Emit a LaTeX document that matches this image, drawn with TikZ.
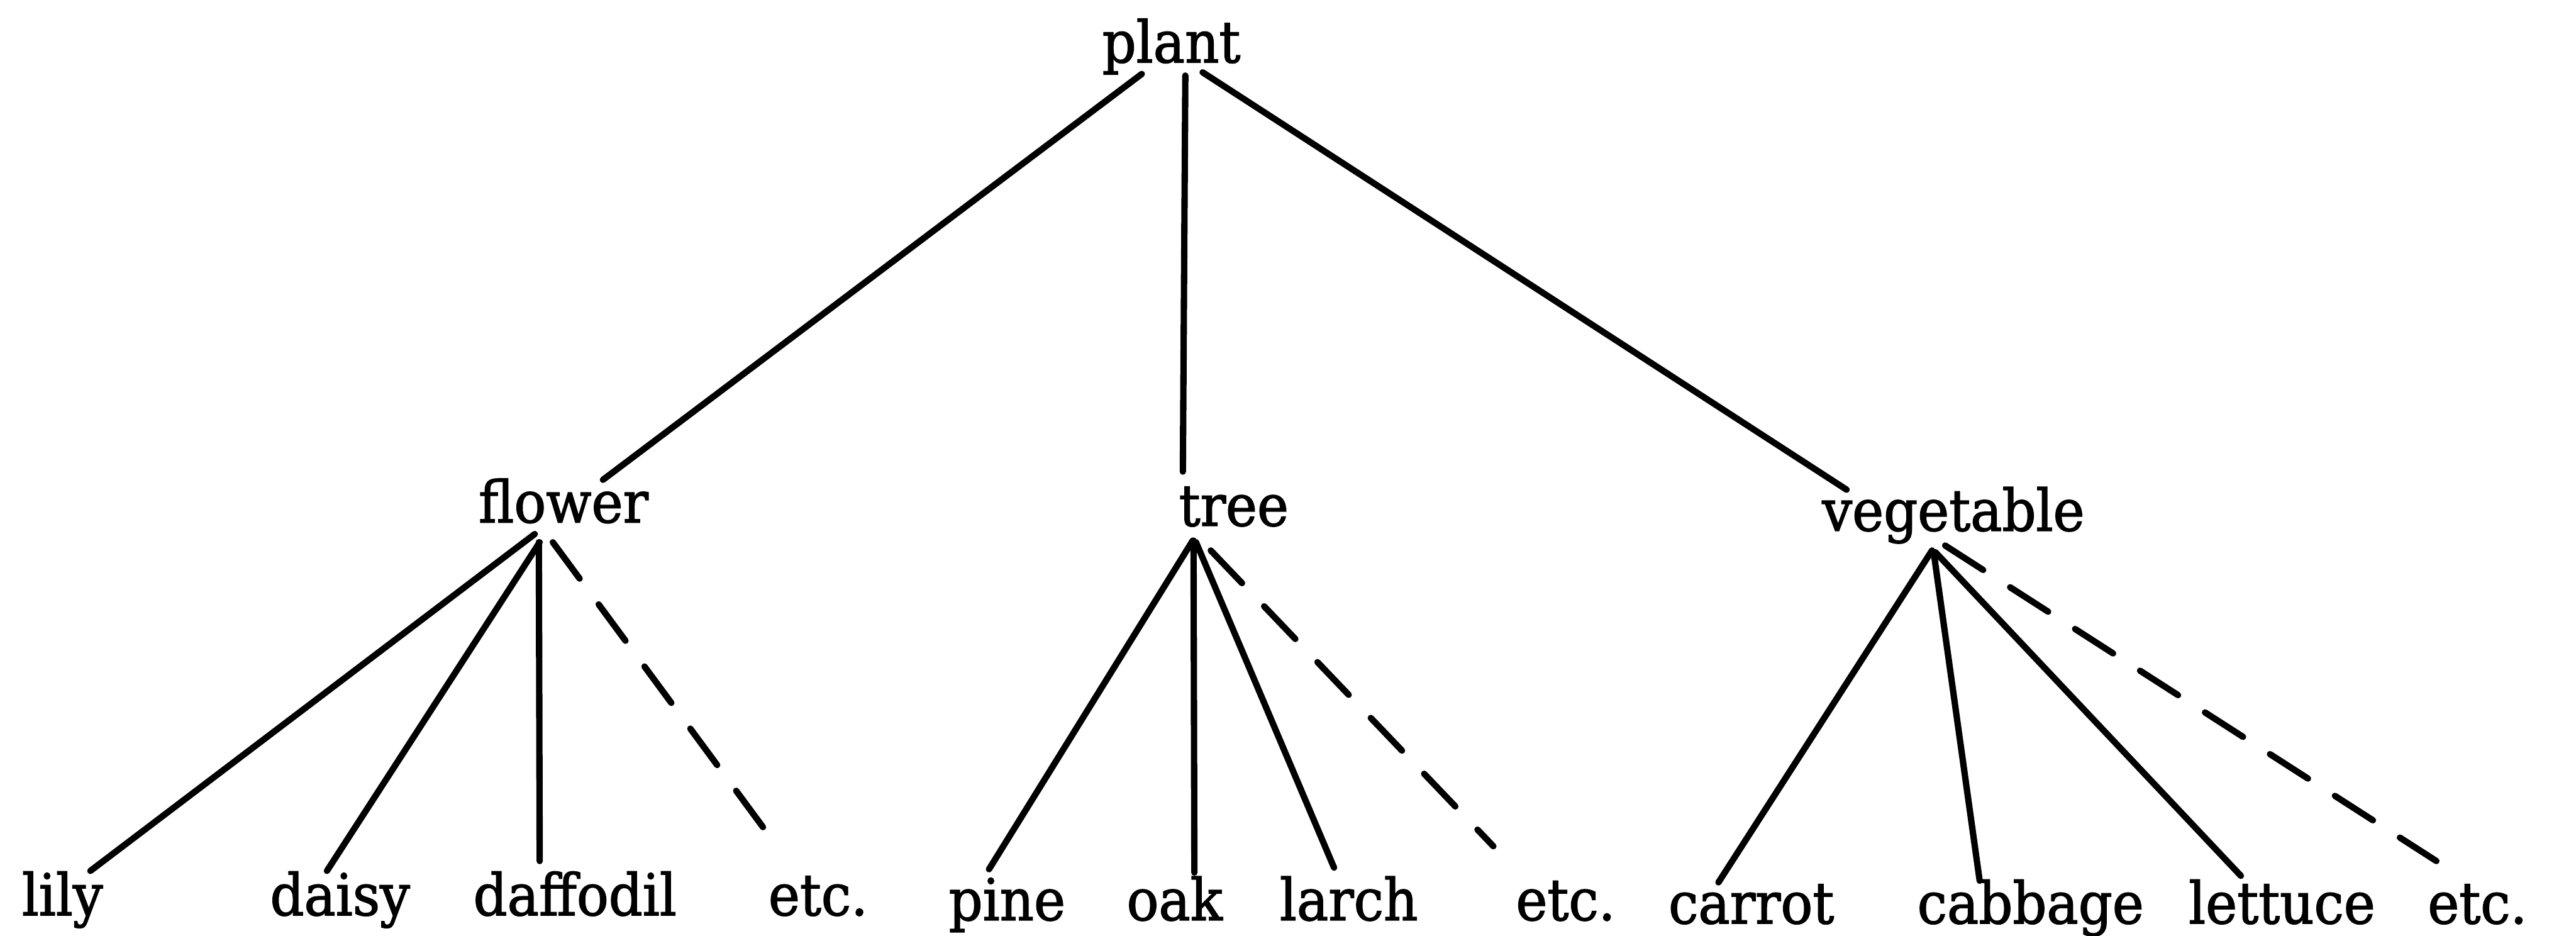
\documentclass[tikz,border=0pt]{standalone}
\usepackage{fontspec}
\setmainfont{DejaVu Serif}[FakeStretch=0.92, FakeBold=1.6]
\usetikzlibrary{calc}
\tikzset{
  lbl/.style={inner sep=0pt, anchor=base, font=\fontsize{20}{24}\selectfont},
  edge/.style={line width=2.2pt, line cap=round},
  dedge/.style={edge, dash pattern=on 0.55cm off 0.39cm}
}
\begin{document}
\begin{tikzpicture}[x=0.02cm, y=-0.02cm]
\useasboundingbox (0,0) rectangle (1568,569.5);
% nodes
\node[lbl] (plant) at (713,38) {plant};
\node[lbl] (flower) at (343,318) {flower};
\node[lbl] (tree) at (751,320) {tree};
\node[lbl] (veg) at (1189,323) {vegetable};
\node[lbl] (lily) at (38,557) {lily};
\node[lbl] (daisy) at (207,557) {daisy};
\node[lbl] (daffodil) at (350,557) {daffodil};
\node[lbl] (etcA) at (498,557) {etc.};
\node[lbl] (pine) at (613,560) {pine};
\node[lbl] (oak) at (715,560) {oak};
\node[lbl] (larch) at (821,560) {larch};
\node[lbl] (etcB) at (953,560) {etc.};
\node[lbl] (carrot) at (1066,562) {carrot};
\node[lbl] (cabbage) at (1236,562) {cabbage};
\node[lbl] (lettuce) at (1389,562) {lettuce};
\node[lbl] (etcC) at (1508,562) {etc.};
% top level
\draw[edge] ($(plant.base)+(-18,7)$) -- ($(flower.base)+(24,-26)$);
\draw[edge] ($(plant.base)+(8.5,8)$) -- ($(tree.base)+(-31,-33)$);
\draw[edge] ($(plant.base)+(19,6)$) -- ($(veg.base)+(-65,-25)$);
% flower
\draw[edge] ($(flower.base)+(-17.5,7)$) -- ($(lily.base)+(17,-27)$);
\draw[edge] ($(flower.base)+(-14.5,12)$) -- ($(daisy.base)+(-8,-27)$);
\draw[edge] ($(flower.base)+(-15,12)$) -- ($(daffodil.base)+(-21.5,-33)$);
\draw[dedge] ($(flower.base)+(-6.5,12)$) -- ($(etcA.base)+(-25,-42)$);
% tree
\draw[edge] ($(tree.base)+(-25,9)$) -- ($(pine.base)+(-11,-31)$);
\draw[edge] ($(tree.base)+(-24.5,9)$) -- ($(oak.base)+(12,-29)$);
\draw[edge] ($(tree.base)+(-23,10)$) -- ($(larch.base)+(-9,-32)$);
\draw[dedge] ($(tree.base)+(-14,15)$) -- ($(etcB.base)+(-44,-45)$);
% vegetable
\draw[edge] ($(veg.base)+(-13,12)$) -- ($(carrot.base)+(-20,-25)$);
\draw[edge] ($(veg.base)+(-12,13)$) -- ($(cabbage.base)+(-31,-26)$);
\draw[edge] ($(veg.base)+(-11,13)$) -- ($(lettuce.base)+(-25,-29)$);
\draw[dedge] ($(veg.base)+(-5,9)$) -- ($(etcC.base)+(-25,-38)$);
\end{tikzpicture}
\end{document}
